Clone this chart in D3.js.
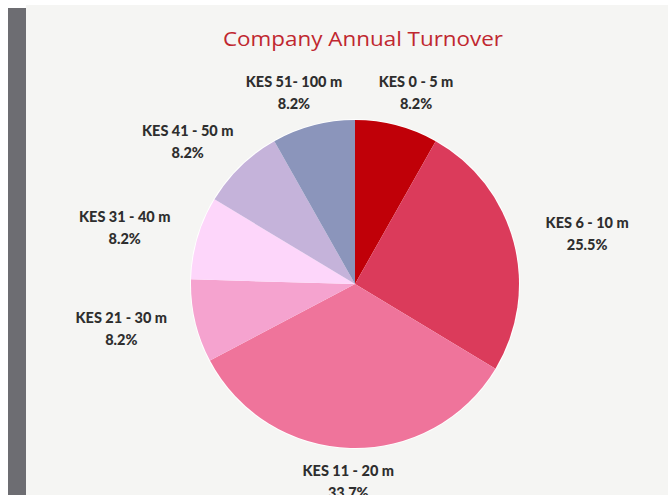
<!DOCTYPE html>
<html>
<head>
<meta charset="utf-8">
<script src="https://cdn.jsdelivr.net/npm/d3@7"></script>
<style>
  html, body { margin: 0; padding: 0; background: #ffffff; }
  svg { display: block; }
</style>
</head>
<body>
<svg id="chart" width="668" height="495"></svg>
<script>
const title = "Company Annual Turnover";
const categories = ["KES 0 - 5 m", "KES 6 - 10 m", "KES 11 - 20 m", "KES 21 - 30 m", "KES 31 - 40 m", "KES 41 - 50 m", "KES 51- 100 m"];
const values = [8.2, 25.5, 33.7, 8.2, 8.2, 8.2, 8.2];
const colors = ["#c00008", "#db3b5b", "#ef749b", "#f5a3cf", "#fdd6fa", "#c5b3da", "#8b95bb"];

const W = 668, H = 495;
const svg = d3.select("#chart");

// page framing
svg.append("rect").attr("x", 26).attr("y", 5).attr("width", W - 26).attr("height", H - 5).attr("fill", "#f5f5f3");
svg.append("rect").attr("x", 8).attr("y", 8).attr("width", 18).attr("height", H - 8).attr("fill", "#6d6d72");

svg.append("text")
  .attr("x", 363).attr("y", 46)
  .attr("text-anchor", "middle")
  .attr("font-family", "'Open Sans', sans-serif")
  .attr("font-size", 20)
  .attr("textLength", 280)
  .attr("lengthAdjust", "spacingAndGlyphs")
  .attr("fill", "#c0272f")
  .text(title);

const cx = 355, cy = 284, R = 164;
const data = categories.map((c, i) => ({ cat: c, value: values[i], color: colors[i] }));
const pie = d3.pie().value(d => d.value).sort(null);
const arcs = pie(data);
const arc = d3.arc().innerRadius(0).outerRadius(R);

const g = svg.append("g").attr("transform", `translate(${cx},${cy})`);
g.append("circle").attr("r", R + 1).attr("fill", "#ffffff");
g.selectAll("path.slice").data(arcs).enter().append("path")
  .attr("class", "slice")
  .attr("d", arc)
  .attr("fill", d => d.data.color);

// labels on an ellipse around the pie
const RX = 240, RY = 198;
const lab = g.selectAll("g.lab").data(arcs).enter().append("g").attr("class", "lab")
  .attr("transform", d => {
    const a = (d.startAngle + d.endAngle) / 2;
    return `translate(${RX * Math.sin(a)},${-RY * Math.cos(a)})`;
  });
lab.append("text")
  .attr("y", -6)
  .attr("text-anchor", "middle")
  .attr("font-family", "Lato, sans-serif")
  .attr("font-weight", "900")
  .attr("font-size", 14.5)
  .attr("fill", "#2e2e2e")
  .text(d => d.data.cat);
lab.append("text")
  .attr("y", 16)
  .attr("text-anchor", "middle")
  .attr("font-family", "Lato, sans-serif")
  .attr("font-weight", "900")
  .attr("font-size", 14.5)
  .attr("fill", "#2e2e2e")
  .text(d => d.data.value.toFixed(1) + "%");
</script>
</body>
</html>
